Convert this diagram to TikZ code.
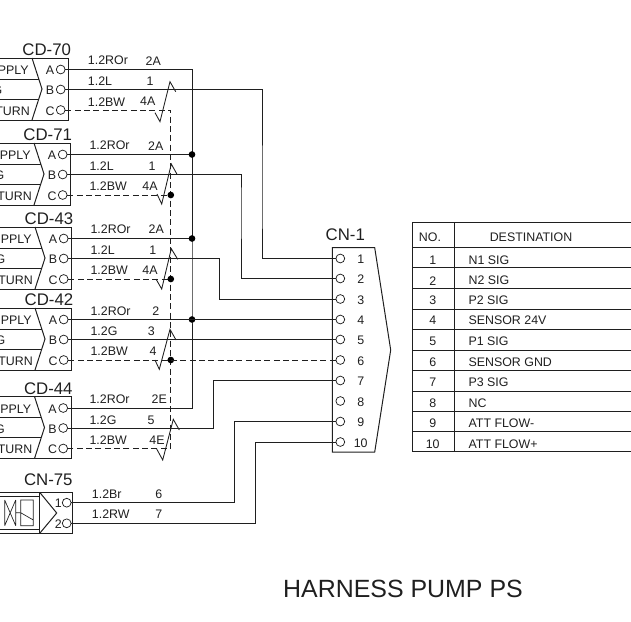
\documentclass[tikz,border=0pt]{standalone}
\usepackage{fontspec}
\setmainfont{Liberation Sans}
\definecolor{ink}{gray}{0.12}
\tikzset{
  ln/.style={draw=ink,line width=0.75pt},
  wire/.style={ln},
  dwire/.style={ln,dash pattern=on 4.4pt off 2.6pt},
  pin/.style={circle,draw=ink,line width=0.55pt,fill=white,inner sep=0pt,minimum size=6.6pt},
  lbl/.style={inner sep=0pt,font=\fontsize{9.3pt}{10pt}\selectfont,text=ink},
  ttl/.style={inner sep=0pt,font=\fontsize{12.6pt}{13pt}\selectfont,text=ink},
  dot/.style={circle,fill=black,inner sep=0pt,minimum size=5pt},
}
\newcommand{\cdconn}[6]{
  \draw[ln] (0,#4) -- (#3+68.5,#4) -- (#3+68.5,#4+62) -- (0,#4+62);
  \draw[ln] (#3+32,#4) -- (#3+42,#4+31) -- (#3+32,#4+62);
  \draw[ln] (0,#4+21) -- (#3+38.6,#4+21);
  \draw[ln] (0,#4+41) -- (#3+38.6,#4+41);
  \node[ttl] (#1-t) at (#5,#6) {#2};
  \node[pin] (#1-A) at (#3+60.7,#4+11.5) {};
  \node[pin] (#1-B) at (#3+60.7,#4+31.5) {};
  \node[pin] (#1-C) at (#3+60.7,#4+52) {};
  \node[lbl] (#1-a) at (#3+50,#4+12.5) {A};
  \node[lbl] (#1-b) at (#3+50,#4+32.5) {B};
  \node[lbl] (#1-c) at (#3+50,#4+53) {C};
  \node[lbl,anchor=east] (#1-s) at (#3+29,#4+12.5) {PPLY};
  \node[lbl,anchor=east] (#1-g) at (#3+2.5,#4+32.5) {G};
  \node[lbl,anchor=east] (#1-r) at (#3+30,#4+53) {TURN};
}
\newcommand{\lblrow}[6]{
  \node[lbl,anchor=west] (#1w) at (#2,#3) {#4};
  \node[lbl] (#1n) at (#6,#3) {#5};
}
\begin{document}
\begin{tikzpicture}[x=0.75pt,y=-0.75pt]
\useasboundingbox (0,0) rectangle (631,621);
\clip (0,0) rectangle (631,621);

\cdconn{cd70}{CD-70}{0}{58}{46.7}{50}
\cdconn{cd71}{CD-71}{2}{143}{47.7}{135}
\cdconn{cd43}{CD-43}{3}{227}{49}{219}
\cdconn{cd42}{CD-42}{3}{308}{49}{299.3}
\cdconn{cd44}{CD-44}{2.5}{396.5}{48.3}{389}

\lblrow{a70}{87.7}{60.7}{1.2ROr}{2A}{153.3}
\lblrow{b70}{87.7}{81}{1.2L}{1}{150}
\lblrow{c70}{87.7}{101.7}{1.2BW}{4A}{147.7}
\lblrow{a71}{89.3}{145.7}{1.2ROr}{2A}{155.7}
\lblrow{b71}{89.3}{166}{1.2L}{1}{152}
\lblrow{c71}{89.3}{186.5}{1.2BW}{4A}{150}
\lblrow{a43}{90.3}{229.5}{1.2ROr}{2A}{156.3}
\lblrow{b43}{90.3}{250}{1.2L}{1}{152.7}
\lblrow{c43}{90.3}{270}{1.2BW}{4A}{150}
\lblrow{a42}{90.3}{311}{1.2ROr}{2}{155.7}
\lblrow{b42}{90.3}{331}{1.2G}{3}{151.3}
\lblrow{c42}{90.3}{351.5}{1.2BW}{4}{153}
\lblrow{a44}{89.3}{399.5}{1.2ROr}{2E}{159.3}
\lblrow{b44}{89.3}{420}{1.2G}{5}{151}
\lblrow{c44}{89.3}{440}{1.2BW}{4E}{157}
\lblrow{a75}{91.7}{494}{1.2Br}{6}{158.7}
\lblrow{b75}{91.7}{514.3}{1.2RW}{7}{158.7}

% CN-75
\node[ttl] (cn75t) at (48.3,480) {CN-75};
\draw[ln] (0,492.7) -- (72.7,492.7) -- (72.7,533) -- (0,533);
\draw[ln] (40,492.7) -- (56.7,513) -- (40,533);
\draw[ln] (39.5,492.7) -- (39.5,533);
\draw[ln] (0,496.7) -- (39.5,496.7);
\draw[ln] (0,529) -- (39.5,529);
\draw[draw=ink,line width=0.5pt] (4.7,500) -- (4.7,525.7) (15.7,500) -- (15.7,525.7) (4.7,500) -- (15.7,525.7) (15.7,500) -- (4.7,525.7) (15.7,512.7) -- (20.7,512.7);
\draw[draw=ink,line width=0.5pt] (20.7,500) rectangle (33.3,525.7) (20.7,512.7) -- (33.3,520);
\node[pin] (cn75-1) at (66.7,502.7) {};
\node[pin] (cn75-2) at (66.7,523.3) {};
\node[lbl] (cn75a) at (58.3,503.3) {1};
\node[lbl] (cn75b) at (58.3,524) {2};

% CN-1
\node[ttl] (cn1t) at (345.3,235) {CN-1};
\draw[ln] (332.3,247.7) -- (374.7,247.7) -- (390.7,350) -- (374.7,452) -- (332.3,452) -- cycle;
\foreach \n/\y in {1/258.5,2/278.5,3/299,4/319.5,5/339.5,6/360,7/380.5,8/401,9/421.5,10/442}{
  \node[pin] (cn1-\n) at (340.3,\y) {};
  \node[lbl] (cn1n\n) at (360.7,\y+1) {\n};
}

% junction and bend points
\coordinate (busA) at (192,240);
\coordinate (busC) at (170.8,240);
\coordinate (r1) at (262,200);
\coordinate (r2) at (241,200);
\coordinate (r3) at (219.7,280);
\coordinate (r7) at (213.3,400);
\coordinate (r9) at (234.3,460);
\coordinate (r10) at (255.3,480);

% power bus
\draw[wire] (cd70-A.east) -| (busA) |- (cd44-A.east);
\draw[wire] (cd71-A.east) -| (busA);
\draw[wire] (cd43-A.east) -| (busA);
\node[dot] (j71) at (cd71-A -| busA) {};
\node[dot] (j43) at (cd43-A -| busA) {};
\node[dot] (j42) at (cd42-A -| busA) {};

% return bus
\draw[dwire] (cd70-C.east) -| (busC) |- (cd44-C.east);
\draw[dwire] (cd71-C.east) -- (cd71-C -| busC);
\draw[dwire] (cd43-C.east) -- (cd43-C -| busC);
\node[dot] (k71) at (cd71-C -| busC) {};
\node[dot] (k43) at (cd43-C -| busC) {};
\node[dot] (k42) at (cd42-C -| busC) {};

% signal wires
\draw[wire] (cd70-B.east) -| (r1) |- (cn1-1.west);
\draw[wire] (cd71-B.east) -| (r2) |- (cn1-2.west);
\draw[wire] (cd43-B.east) -| (r3) |- (cn1-3.west);
\draw[wire] (cd42-A.east) -- (cn1-4.west);
\draw[wire] (cd42-B.east) -- (cn1-5.west);
\draw[dwire] (cd42-C.east) -- (cn1-6.west);
\draw[wire] (cd44-B.east) -| (r7) |- (cn1-7.west);
\draw[wire] (cn75-1.east) -| (r9) |- (cn1-9.west);
\draw[wire] (cn75-2.east) -| (r10) |- (cn1-10.west);

% twist marks
\draw[ln,line width=0.65pt] (155,112.7) -- (160,121.7) -- (170,81.7) -- (175.7,91.7);
\draw[ln,line width=0.65pt] (157,194) -- (161.7,204) -- (171.3,164) -- (177,174.3);
\draw[ln,line width=0.65pt] (156,279) -- (161.7,289) -- (171.3,248.7) -- (177.7,259.3);
\draw[ln,line width=0.65pt] (155,360) -- (159.3,369.3) -- (170,329.3) -- (176,340);
\draw[ln,line width=0.65pt] (156.7,449) -- (162.7,460) -- (173.3,419.3) -- (179.3,430);

% table
\draw[ln] (631,222.3) -- (412.3,222.3) -- (412.3,451.7) -- (631,451.7);
\draw[ln] (454.7,222.3) -- (454.7,451.7);
\foreach \y in {247.3,267.3,288.3,309.3,329.3,350,370.3,391,411.7,431.7}
  \draw[ln] (412.3,\y) -- (631,\y);
\node[lbl] (hno) at (430,237.3) {NO.};
\node[lbl] (hdest) at (531,237.3) {DESTINATION};
\foreach \n/\y/\t in {1/260/N1 SIG,2/280.7/N2 SIG,3/300.7/P2 SIG,4/320.7/SENSOR 24V,5/341.3/P1 SIG,6/362/SENSOR GND,7/382.7/P3 SIG,8/403.3/NC,9/423.7/ATT FLOW-,10/444.3/ATT FLOW+}{
  \node[lbl] (tn\n) at (432.7,\y) {\n};
  \node[lbl,anchor=west] (td\n) at (468.3,\y) {\t};
}

\node[inner sep=0pt,font=\fontsize{18.7pt}{20pt}\selectfont,text=ink] (title) at (403,589) {HARNESS PUMP PS};
\end{tikzpicture}
\end{document}
